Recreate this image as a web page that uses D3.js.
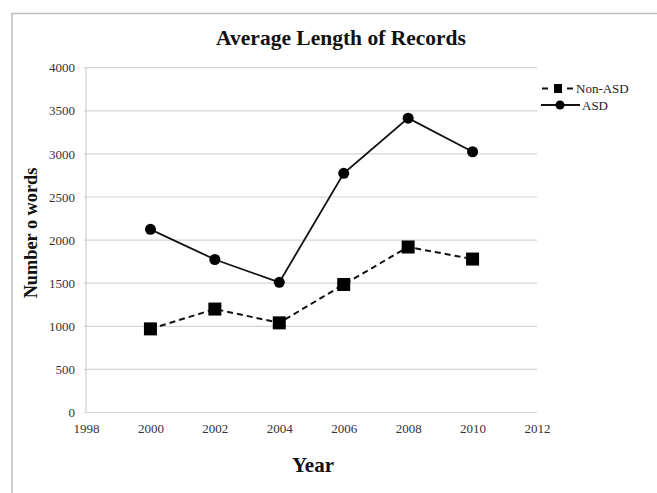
<!DOCTYPE html>
<html>
<head>
<meta charset="utf-8">
<script src="https://cdn.jsdelivr.net/npm/d3@7/dist/d3.min.js"></script>
<style>
  html, body { margin: 0; padding: 0; background: #fff; }
  svg { display: block; }
</style>
</head>
<body>
<svg id="chart" width="657" height="493"></svg>
<script>
// Average record length per survey year, by group
const years = [2000, 2002, 2004, 2006, 2008, 2010];
const nonAsd = [970, 1200, 1040, 1485, 1920, 1780];
const asd = [2125, 1775, 1510, 2775, 3415, 3025];
const xTicks = [1998, 2000, 2002, 2004, 2006, 2008, 2010, 2012];
const yTicks = [0, 500, 1000, 1500, 2000, 2500, 3000, 3500, 4000];
const seriesNames = ["Non-ASD", "ASD"];

const svg = d3.select("#chart");
const serif = "'Liberation Serif', 'Times New Roman', serif";

// outer chart frame (runs off the right and bottom of the page)
svg.append("path")
  .attr("d", "M12,700 L12,13.5 L700,13.5")
  .attr("fill", "none")
  .attr("stroke", "#bdbdbd")
  .attr("stroke-width", 1.5);

const x = d3.scaleLinear().domain([1998, 2012]).range([86, 537]);
const y = d3.scaleLinear().domain([0, 4000]).range([412.5, 67.7]);

// horizontal gridlines
svg.append("g")
  .selectAll("line")
  .data(yTicks)
  .join("line")
  .attr("x1", x(1998) - 2)
  .attr("x2", x(2012))
  .attr("y1", d => y(d))
  .attr("y2", d => y(d))
  .attr("stroke", "#d4d4d4")
  .attr("stroke-width", 1.2);

// y axis line
svg.append("line")
  .attr("x1", x(1998)).attr("x2", x(1998))
  .attr("y1", y(4000)).attr("y2", y(0))
  .attr("stroke", "#cfcfcf")
  .attr("stroke-width", 1.2);

// y axis labels
const yAxis = d3.axisLeft(y).tickValues(yTicks).tickSize(0).tickPadding(11)
  .tickFormat(d3.format("d"));
const gy = svg.append("g").attr("transform", `translate(${x(1998)},0)`).call(yAxis);
gy.select(".domain").remove();
gy.selectAll("text")
  .attr("font-family", serif)
  .attr("font-size", 13)
  .attr("fill", "#333");

// x axis labels
const xAxis = d3.axisBottom(x).tickValues(xTicks).tickSize(0).tickPadding(11)
  .tickFormat(d3.format("d"));
const gx = svg.append("g").attr("transform", `translate(0,${y(0)})`).call(xAxis);
gx.select(".domain").remove();
gx.selectAll("text")
  .attr("font-family", serif)
  .attr("font-size", 13)
  .attr("fill", "#333");

// titles
svg.append("text")
  .attr("x", 341).attr("y", 45)
  .attr("text-anchor", "middle")
  .attr("font-family", serif)
  .attr("font-weight", "bold")
  .attr("font-size", 21.5)
  .attr("fill", "#111")
  .text("Average Length of Records");

svg.append("text")
  .attr("x", 313).attr("y", 472)
  .attr("text-anchor", "middle")
  .attr("font-family", serif)
  .attr("font-weight", "bold")
  .attr("font-size", 21)
  .attr("fill", "#111")
  .text("Year");

svg.append("text")
  .attr("transform", "translate(37,233) rotate(-90)")
  .attr("text-anchor", "middle")
  .attr("font-family", serif)
  .attr("font-weight", "bold")
  .attr("font-size", 18.3)
  .attr("fill", "#111")
  .text("Number o words");

const line = d3.line().x(d => x(d[0])).y(d => y(d[1]));
const nonData = years.map((yr, i) => [yr, nonAsd[i]]);
const asdData = years.map((yr, i) => [yr, asd[i]]);

// Non-ASD: dashed line with square markers
svg.append("path")
  .datum(nonData)
  .attr("d", line)
  .attr("fill", "none")
  .attr("stroke", "#111")
  .attr("stroke-width", 2)
  .attr("stroke-dasharray", "6,4");

const sq = 13;
svg.append("g")
  .selectAll("rect")
  .data(nonData)
  .join("rect")
  .attr("x", d => x(d[0]) - sq / 2)
  .attr("y", d => y(d[1]) - sq / 2)
  .attr("width", sq)
  .attr("height", sq)
  .attr("fill", "#000");

// ASD: solid line with circle markers
svg.append("path")
  .datum(asdData)
  .attr("d", line)
  .attr("fill", "none")
  .attr("stroke", "#111")
  .attr("stroke-width", 1.8);

svg.append("g")
  .selectAll("circle")
  .data(asdData)
  .join("circle")
  .attr("cx", d => x(d[0]))
  .attr("cy", d => y(d[1]))
  .attr("r", 5.5)
  .attr("fill", "#000");

// legend
const lg = svg.append("g").attr("font-family", serif).attr("font-size", 13).attr("fill", "#222");
// Non-ASD entry: dash, square, dash
lg.append("line")
  .attr("x1", 542).attr("x2", 574).attr("y1", 88.5).attr("y2", 88.5)
  .attr("stroke", "#111").attr("stroke-width", 2).attr("stroke-dasharray", "6,19");
lg.append("rect").attr("x", 554).attr("y", 84).attr("width", 8).attr("height", 9).attr("fill", "#000");
lg.append("text").attr("x", 576).attr("y", 93).text(seriesNames[0]);
// ASD entry
lg.append("line")
  .attr("x1", 541).attr("x2", 580).attr("y1", 105).attr("y2", 105)
  .attr("stroke", "#111").attr("stroke-width", 1.8);
lg.append("circle").attr("cx", 560).attr("cy", 105).attr("r", 4.5).attr("fill", "#000");
lg.append("text").attr("x", 582).attr("y", 109.5).text(seriesNames[1]);
</script>
</body>
</html>
